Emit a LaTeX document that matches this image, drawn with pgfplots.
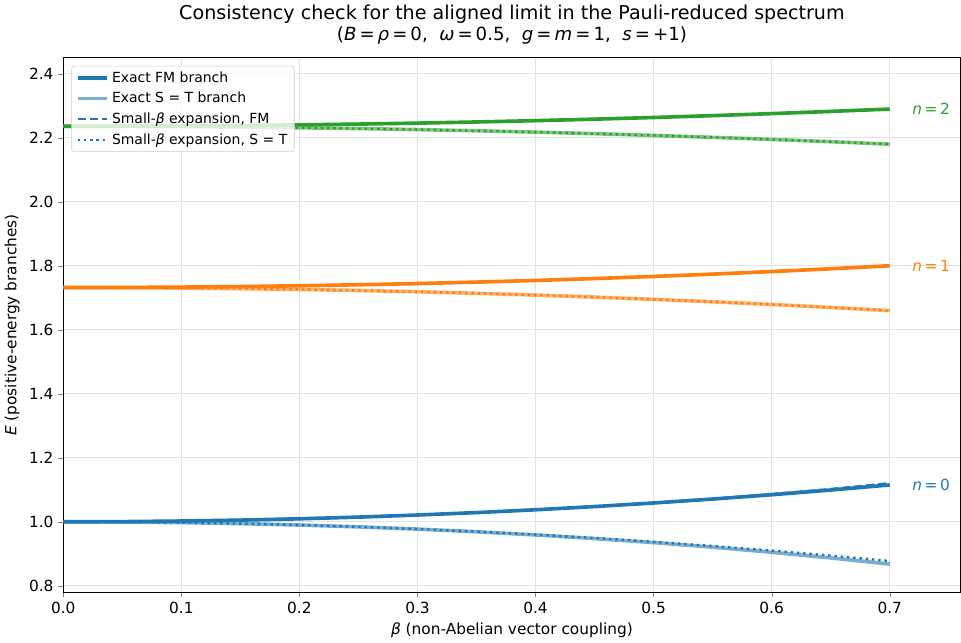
\documentclass[border=0pt]{standalone}
\usepackage{fontspec}
\setmainfont{DejaVu Sans}
\usepackage{pgfplots}
\pgfplotsset{compat=1.18}

\definecolor{tabblue}{HTML}{1F77B4}
\definecolor{taborange}{HTML}{FF7F0E}
\definecolor{tabgreen}{HTML}{2CA02C}

% columns: beta, FM exact, S=T exact, FM expansion, S=T expansion
\pgfplotstableread{
b     fm      st      fmx     stx
0.00  1.0000  1.0000  1.0000  1.0000
0.05  1.0006  0.9994  1.0006  0.9994
0.10  1.0024  0.9975  1.0024  0.9975
0.15  1.0053  0.9944  1.0053  0.9944
0.20  1.0094  0.9899  1.0094  0.9900
0.25  1.0147  0.9842  1.0147  0.9844
0.30  1.0212  0.9772  1.0212  0.9775
0.35  1.0288  0.9688  1.0289  0.9694
0.40  1.0376  0.9590  1.0378  0.9600
0.45  1.0476  0.9477  1.0480  0.9494
0.50  1.0588  0.9350  1.0595  0.9375
0.55  1.0711  0.9207  1.0722  0.9244
0.60  1.0846  0.9048  1.0866  0.9100
0.65  1.0993  0.8872  1.1025  0.8944
0.70  1.1152  0.8679  1.1205  0.8775
}\nzero

\pgfplotstableread{
b     fm      st
0.00  1.7321  1.7321
0.05  1.7324  1.7317
0.10  1.7335  1.7306
0.15  1.7352  1.7288
0.20  1.7377  1.7262
0.25  1.7408  1.7229
0.30  1.7446  1.7189
0.35  1.7491  1.7141
0.40  1.7543  1.7086
0.45  1.7602  1.7023
0.50  1.7668  1.6953
0.55  1.7741  1.6876
0.60  1.7821  1.6792
0.65  1.7908  1.6700
0.70  1.8002  1.6601
}\none

\pgfplotstableread{
b     fm      st
0.00  2.2361  2.2361
0.05  2.2364  2.2358
0.10  2.2372  2.2350
0.15  2.2386  2.2335
0.20  2.2405  2.2315
0.25  2.2430  2.2290
0.30  2.2460  2.2258
0.35  2.2496  2.2221
0.40  2.2537  2.2179
0.45  2.2584  2.2130
0.50  2.2636  2.2076
0.55  2.2694  2.2016
0.60  2.2757  2.1951
0.65  2.2826  2.1879
0.70  2.2900  2.1802
}\ntwo

\pgfplotsset{
  exact/.style={line width=2.6pt},
  light/.style={line width=2.6pt, draw opacity=0.6},
  dashx/.style={line width=1.7pt, dash pattern=on 6pt off 2.6pt},
  dotx/.style={line width=1.7pt, dash pattern=on 1.7pt off 2.8pt},
}

\begin{document}
\begin{tikzpicture}
\begin{axis}[
  scale only axis, width=8.9in, height=5.3in,
  xmin=0, xmax=0.76, ymin=0.78, ymax=2.45,
  xtick={0,0.1,...,0.7}, ytick={0.8,1.0,...,2.4},
  /pgf/number format/assume math mode=true,
  xticklabel style={/pgf/number format/.cd,fixed,fixed zerofill,precision=1},
  yticklabel style={/pgf/number format/.cd,fixed,fixed zerofill,precision=1},
  ticklabel style={font=\fontsize{11}{13}\selectfont},
  tick align=outside, tick pos=left,
  major tick length=3.5pt,
  grid=major, grid style={gray!22, line width=0.6pt},
  axis line style={line width=0.6pt},
  xlabel={\textit{β} (non-Abelian vector coupling)},
  ylabel={\textit{E} (positive-energy branches)},
  label style={font=\fontsize{11}{13}\selectfont},
  title style={font=\fontsize{13}{15.5}\selectfont, align=center},
  title={{\fontsize{13.7}{15.5}\selectfont Consistency check for the aligned limit in the Pauli-reduced spectrum}\\(\textit{B}\,=\,\textit{ρ}\,=\,0,\ \ \textit{ω}\,=\,0.5,\ \ \textit{g}\,=\,\textit{m}\,=\,1,\ \ \textit{s}\,=\,+1)},
  legend style={at={(0.009,0.985)}, anchor=north west,
    font=\fontsize{10}{12}\selectfont, draw=gray!40, fill=white, fill opacity=0.8, text opacity=1, rounded corners=2pt,
    row sep=1.6pt},
  legend cell align=left,
  legend image code/.code={\draw[#1] (0cm,0cm) -- (0.75cm,0cm);},
]
% legend entries (n = 0 styles)
\addlegendimage{tabblue, exact}
\addlegendentry{Exact FM branch}
\addlegendimage{tabblue, line width=2.6pt, draw=tabblue!60}
\addlegendentry{Exact S = T branch}
\addlegendimage{tabblue, dashx}
\addlegendentry{Small-\textit{β} expansion, FM}
\addlegendimage{tabblue, dotx}
\addlegendentry{Small-\textit{β} expansion, S = T}
% n = 0
\addplot[tabblue, dashx, forget plot] table[x=b,y=fmx] {\nzero};
\addplot[tabblue, dotx, forget plot] table[x=b,y=stx] {\nzero};
\addplot[tabblue, exact, forget plot] table[x=b,y=fm] {\nzero};
\addplot[tabblue, light, forget plot] table[x=b,y=st] {\nzero};
% n = 1
\addplot[taborange, dashx, forget plot] table[x=b,y=fm] {\none};
\addplot[taborange, dotx, forget plot] table[x=b,y=st] {\none};
\addplot[taborange, exact, forget plot] table[x=b,y=fm] {\none};
\addplot[taborange, light, forget plot] table[x=b,y=st] {\none};
% n = 2
\addplot[tabgreen, dashx, forget plot] table[x=b,y=fm] {\ntwo};
\addplot[tabgreen, dotx, forget plot] table[x=b,y=st] {\ntwo};
\addplot[tabgreen, exact, forget plot] table[x=b,y=fm] {\ntwo};
\addplot[tabgreen, light, forget plot] table[x=b,y=st] {\ntwo};

\node[anchor=west, text=tabblue, font=\fontsize{11}{13}\selectfont] at (axis cs:0.715,1.1152) {\textit{n}\,=\,0};
\node[anchor=west, text=taborange, font=\fontsize{11}{13}\selectfont] at (axis cs:0.715,1.8002) {\textit{n}\,=\,1};
\node[anchor=west, text=tabgreen, font=\fontsize{11}{13}\selectfont] at (axis cs:0.715,2.2900) {\textit{n}\,=\,2};
\end{axis}
\end{tikzpicture}
\end{document}
